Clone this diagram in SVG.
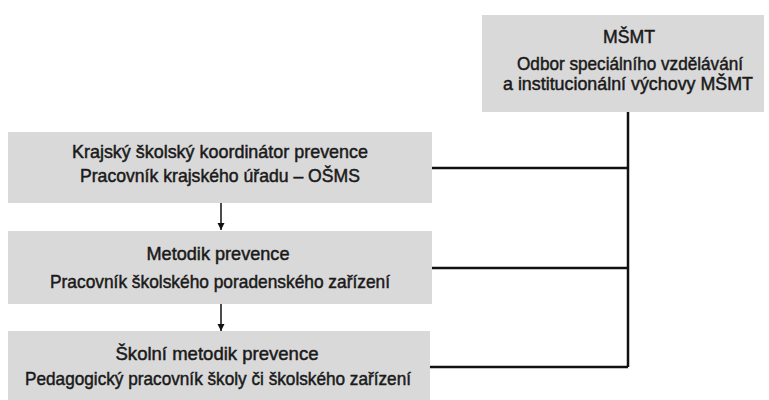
<svg xmlns="http://www.w3.org/2000/svg" width="769" height="400" viewBox="0 0 769 400">
<defs>
<style>
.box{fill:#d9d9d9;}
.t{font-family:"Liberation Sans Narrow","Liberation Sans",Arial,sans-serif;font-size:19px;fill:#1a1a1a;stroke:#1a1a1a;stroke-width:0.5;text-anchor:middle;}
.c{stroke:#111;stroke-width:2.5;fill:none;}
.a{stroke:#111;stroke-width:1.5;fill:none;}
</style>
<marker id="ah" viewBox="0 0 10 10" refX="10" refY="5" markerWidth="7" markerHeight="8" markerUnits="userSpaceOnUse" orient="auto">
<path d="M0,0 L10,5 L0,10 z" fill="#111"/>
</marker>
</defs>
<rect width="769" height="400" fill="#ffffff"/>
<g id="connectors">
<path class="c" d="M628,112 V367 M432,168 H628 M432,268 H628 M430,367 H628"/>
<path class="a" d="M221,203 V230" marker-end="url(#ah)"/>
<path class="a" d="M221,304 V331" marker-end="url(#ah)"/>
</g>
<g id="msmt">
<rect class="box" x="482" y="15" width="282" height="97"/>
<text class="t" x="629" y="43" textLength="52" lengthAdjust="spacingAndGlyphs">MŠMT</text>
<text class="t" x="630" y="70" textLength="226" lengthAdjust="spacingAndGlyphs">Odbor speciálního vzdělávání</text>
<text class="t" x="628" y="90" textLength="250" lengthAdjust="spacingAndGlyphs">a institucionální výchovy MŠMT</text>
</g>
<g id="krajsky">
<rect class="box" x="8" y="132" width="424" height="71"/>
<text class="t" x="220" y="158" textLength="296" lengthAdjust="spacingAndGlyphs">Krajský školský koordinátor prevence</text>
<text class="t" x="220" y="182" textLength="280" lengthAdjust="spacingAndGlyphs">Pracovník krajského úřadu – OŠMS</text>
</g>
<g id="metodik">
<rect class="box" x="8" y="231" width="424" height="73"/>
<text class="t" x="218" y="260" textLength="143" lengthAdjust="spacingAndGlyphs">Metodik prevence</text>
<text class="t" x="220" y="288" textLength="340" lengthAdjust="spacingAndGlyphs">Pracovník školského poradenského zařízení</text>
</g>
<g id="skolni">
<rect class="box" x="8" y="331" width="422" height="69"/>
<text class="t" x="217" y="360" textLength="203" lengthAdjust="spacingAndGlyphs">Školní metodik prevence</text>
<text class="t" x="218" y="385" textLength="386" lengthAdjust="spacingAndGlyphs">Pedagogický pracovník školy či školského zařízení</text>
</g>
</svg>
